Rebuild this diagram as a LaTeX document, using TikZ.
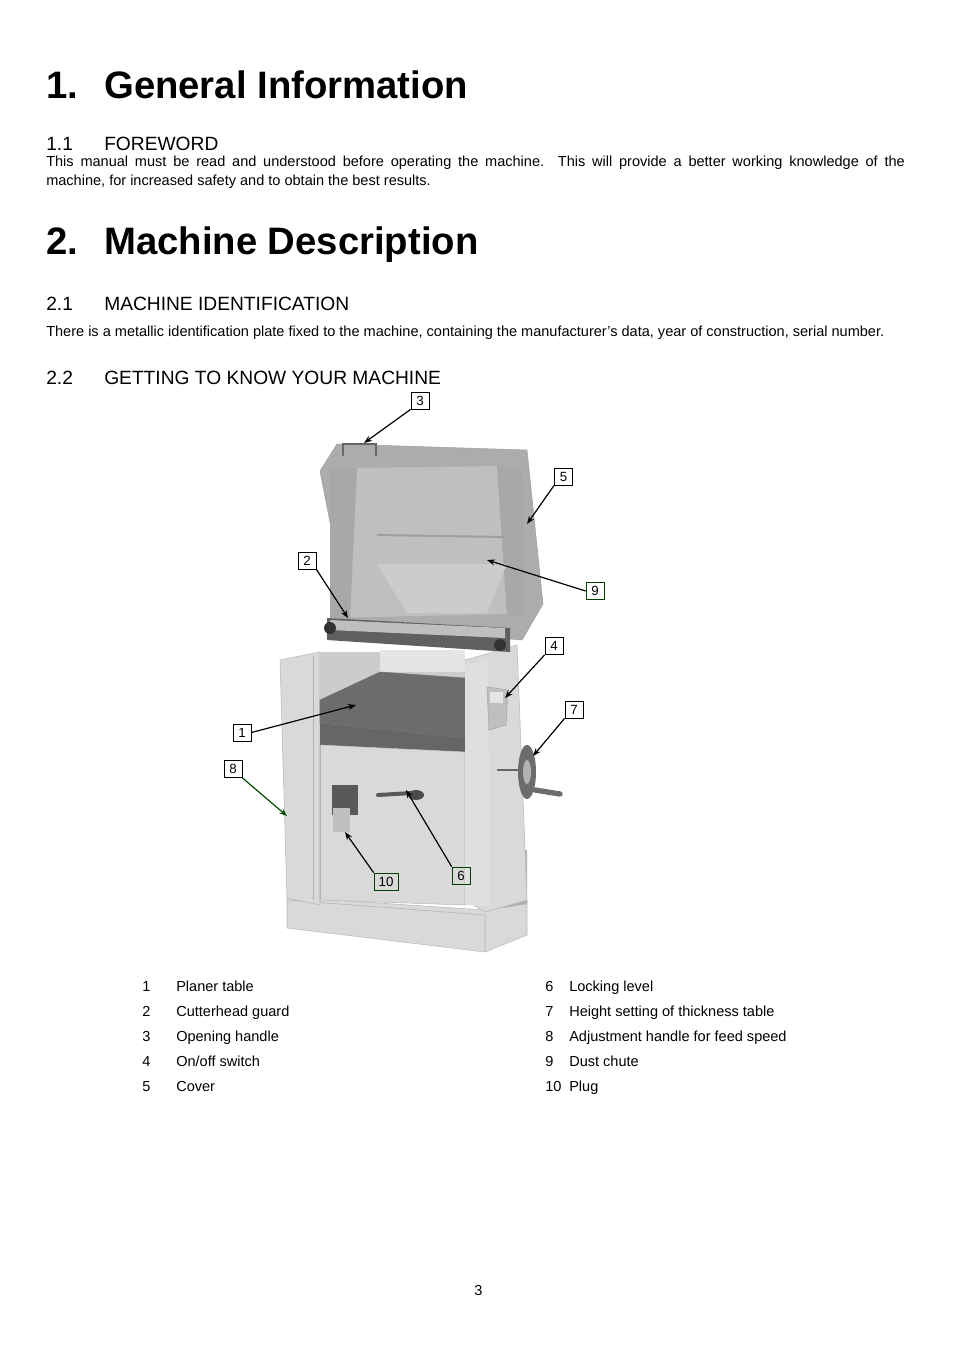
\documentclass[tikz,border=0pt]{standalone}
\usepackage{fontspec}
\setmainfont{Liberation Sans}
\usetikzlibrary{arrows.meta}
\begin{document}
\begin{tikzpicture}[x=0.75pt,y=-0.75pt,
  h1/.style={anchor=base west,font=\fontsize{28.7}{31}\selectfont\bfseries,inner sep=0},
  h2/.style={anchor=base west,font=\fontsize{14.4}{16}\selectfont,inner sep=0},
  body/.style={anchor=base west,font=\fontsize{10.9}{14}\selectfont,inner sep=0},
  lbl/.style={draw,line width=0.6pt,minimum width=13.5pt,minimum height=12.75pt,inner sep=1pt,font=\fontsize{10}{11}\selectfont,text depth=0pt},
  arr/.style={-{Stealth[length=6pt,width=4.5pt]},line width=0.9pt},
  light/.style={fill=gray!30,draw=gray!55,line width=0.4pt},
  mid/.style={fill=gray!65,draw=gray!75,line width=0.4pt},
  dark/.style={fill=gray!85!black,draw=gray!90!black,line width=0.4pt}]
\useasboundingbox (0,0) rectangle (954,1350);
\fill[white] (0,0) rectangle (954,1350);
% ---- text ----
\node[h1] (t1n) at (46,98) {1.};
\node[h1] (t1) at (104,98) {General Information};
\node[h2] (f1n) at (46,150) {1.1};
\node[h2] (f1) at (104,150) {FOREWORD};
\node[anchor=north west,inner sep=0,text width=644pt,align=justify,font=\fontsize{10.9}{14.2}\selectfont] (p1) at (46,156)
 {This manual must be read and understood before operating the machine. This will provide a better working knowledge of the\linebreak machine, for increased safety and to obtain the best results.};
\node[h1] (t2n) at (46,254) {2.};
\node[h1] (t2) at (104,254) {Machine Description};
\node[h2] (s21n) at (46,310) {2.1};
\node[h2] (s21) at (104,310) {MACHINE IDENTIFICATION};
\node[body] (p2) at (46,336) {There is a metallic identification plate fixed to the machine, containing the manufacturer's data, year of construction, serial number.};
\node[h2] (s22n) at (46,384) {2.2};
\node[h2] (s22) at (104,384) {GETTING TO KNOW YOUR MACHINE};
% ---- machine ----
\fill[light] (287,897) -- (485,910) -- (527,900) -- (527,935) -- (485,952) -- (287,928) -- cycle;
\draw[gray!60] (287,900) -- (485,915) -- (485,952);
\fill[gray!60] (503,853) -- (527,850) -- (527,904) -- (503,908) -- cycle;
\fill[light] (465,660) -- (517,645) -- (527,900) -- (485,912) -- (465,900) -- cycle;
\fill[light] (280,660) -- (320,652) -- (320,905) -- (287,898) -- cycle;
\draw[gray!60] (313,656) -- (313,900);
\fill[gray!40] (320,652) -- (465,652) -- (465,700) -- (320,700) -- cycle;
\fill[gray!20] (380,650) -- (465,650) -- (465,672) -- (380,672) -- cycle;
\fill[dark] (320,700) -- (380,672) -- (465,678) -- (465,738) -- (320,723) -- cycle;
\fill[gray!80!black] (320,723) -- (465,738) -- (465,752) -- (320,745) -- cycle;
\fill[light] (320,745) -- (465,752) -- (465,905) -- (320,900) -- cycle;
\draw[gray!60] (320,745) -- (320,900);
\fill[gray!25] (465,665) -- (488,660) -- (490,905) -- (465,905) -- cycle;
\fill[gray!50,draw=gray!70] (487,687) -- (508,690) -- (506,725) -- (489,730) -- cycle;
\fill[gray!20] (490,692) rectangle (503,703);
\draw[gray!80!black,line width=2pt] (497,770) -- (522,770);
\fill[gray!85!black] (527,772) ellipse (9 and 27);
\fill[gray!60] (527,772) ellipse (4 and 12);
\draw[gray!85!black,line width=4pt,line cap=round] (535,790) -- (560,794);
\fill[gray!70!black] (332,785) rectangle (358,815);
\fill[gray!50] (333,808) rectangle (350,832);
\draw[gray!70!black,line width=3pt,line cap=round] (378,795) -- (412,793);
\fill[gray!60!black] (416,795) ellipse (8 and 5);
\fill[mid] (320,471) -- (337,444) -- (527,450) -- (543,604) -- (522,640) -- (350,625) -- cycle;
\fill[gray!50] (357,468) -- (497,466) -- (507,614) -- (330,618) -- cycle;
\fill[gray!68] (330,470) -- (357,468) -- (350,620) -- (330,618) -- cycle;
\fill[gray!68] (497,466) -- (522,470) -- (525,615) -- (507,614) -- cycle;
\draw[gray!75,line width=1.5pt] (377,535) -- (505,537);
\fill[gray!40] (377,564) -- (507,564) -- (487,613) -- (407,613) -- cycle;
\draw[gray!80!black,line width=2pt,line cap=round] (343,455) -- (343,444) -- (376,444) -- (376,455);
\fill[gray!75!black] (327,618) -- (510,628) -- (510,652) -- (327,640) -- cycle;
\fill[gray!50] (330,620) -- (505,628) -- (505,638) -- (330,630) -- cycle;
\fill[black!80] (330,628) circle (6);
\fill[black!80] (500,645) circle (6);
% ---- callouts ----
\node[lbl] (c3) at (420,400.5) {3};
\node[lbl] (c5) at (563.5,476.5) {5};
\node[lbl] (c2) at (307,560.5) {2};
\node[lbl,draw=green!25!black] (c9) at (595,591) {9};
\node[lbl] (c4) at (554,646) {4};
\node[lbl] (c7) at (574,709.5) {7};
\node[lbl] (c1) at (242,732.5) {1};
\node[lbl] (c8) at (233,769) {8};
\node[lbl,draw=green!25!black,minimum width=18pt] (c10) at (386,881.5) {10};
\node[lbl,draw=green!25!black] (c6) at (461,875.5) {6};
\coordinate (e3) at (364,443);
\coordinate (e5) at (527,524);
\coordinate (e2) at (348,618);
\coordinate (e9) at (487,560);
\coordinate (e4) at (505,698);
\coordinate (e7) at (533,756);
\coordinate (e1) at (356,705);
\coordinate (e8) at (287,816);
\coordinate (e10) at (345,832);
\coordinate (e6) at (406,790);
\draw[arr] (c3.south west) -- (e3);
\draw[arr] (c5.south west) -- (e5);
\draw[arr] (c2.south east) -- (e2);
\draw[arr] (c9.west) -- (e9);
\draw[arr] (c4.south west) -- (e4);
\draw[arr] (c7.south west) -- (e7);
\draw[arr] (c1.east) -- (e1);
\draw[arr,green!30!black] (c8.south east) -- (e8);
\draw[arr] (c10.north west) -- (e10);
\draw[arr] (c6.north west) -- (e6);
% ---- legend ----
\foreach \n/\t/\y in {1/Planer table/991,2/Cutterhead guard/1016,3/Opening handle/1041,4/{On/off switch}/1066,5/Cover/1091}{
  \node[body] (ln\n) at (142,\y) {\n};
  \node[body] (lt\n) at (176,\y) {\t};}
\foreach \n/\t/\y in {6/Locking level/991,7/Height setting of thickness table/1016,8/Adjustment handle for feed speed/1041,9/Dust chute/1066}{
  \node[body] (ln\n) at (545,\y) {\n};
  \node[body] (lt\n) at (569,\y) {\t};}
\node[body] (ln10) at (545,1091) {10};
\node[body] (lt10) at (569,1091) {Plug};
\node[body] (pg) at (474,1295) {3};
\end{tikzpicture}
\end{document}
